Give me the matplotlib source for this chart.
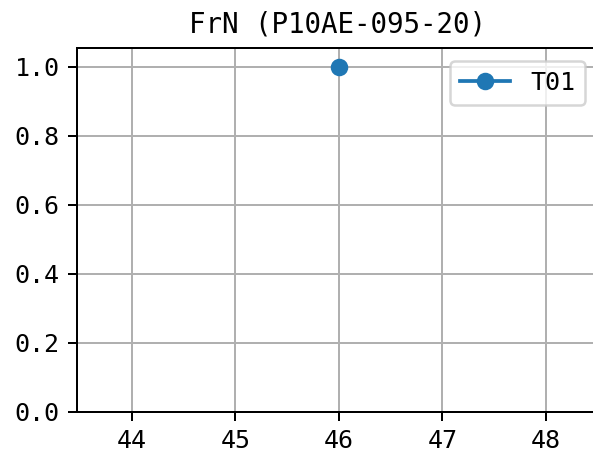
import matplotlib
matplotlib.use("Agg")
import matplotlib.pyplot as plt

plt.rcParams['font.family'] = ['DejaVu Sans Mono', 'Noto Sans CJK JP']

x_vals = [46]
y_vals = [1.0]
series_name = "T01"
title = "FrN (P10AE-095-20)"

dpi = 180
fig = plt.figure(figsize=(593 / dpi, 455 / dpi), dpi=dpi)
ax = fig.add_axes([77 / 593, 1 - 411.7 / 455, 520.6 / 593, 363.7 / 455])
ax.plot(x_vals, y_vals, marker="o", label=series_name)
ax.set_xlim(43.47, 48.5)
ax.set_ylim(0, 1.055)
ax.set_yticks([0, 0.2, 0.4, 0.6, 0.8, 1.0])
ax.set_xticks([44, 45, 46, 47, 48])
ax.grid(True)
ax.set_title(title, fontsize=11)
ax.legend(loc="upper right", bbox_to_anchor=(1.0, 1.0))

fig.savefig("out.png", dpi=dpi)
